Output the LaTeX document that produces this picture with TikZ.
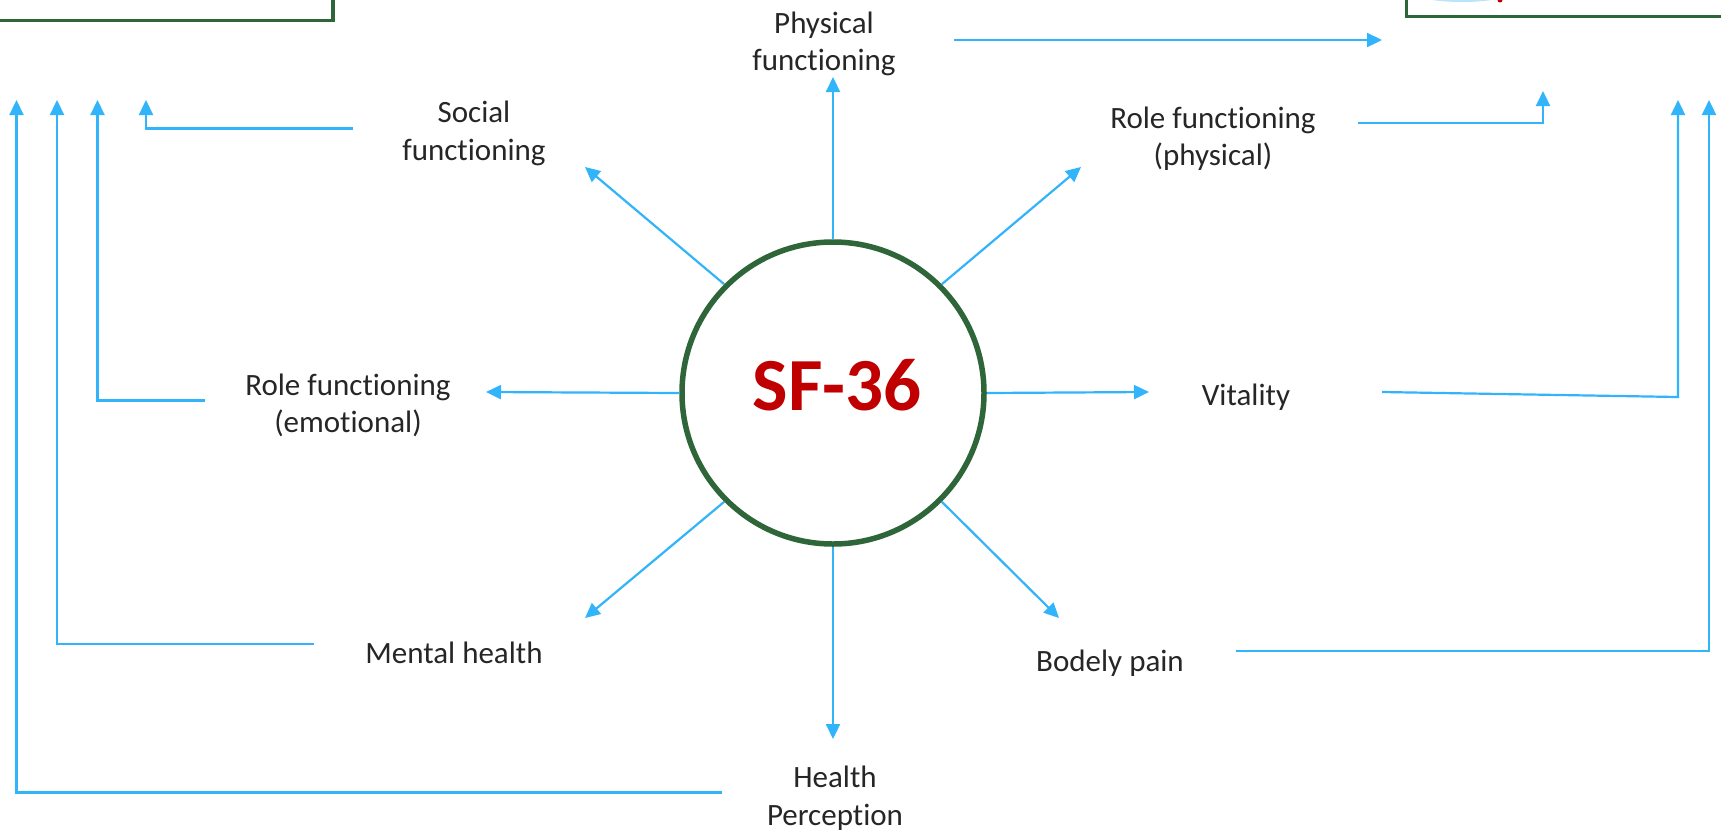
\documentclass[tikz,border=0pt]{standalone}
\usepackage{fontspec}
\setmainfont[Ligatures=NoCommon]{Carlito}
\usetikzlibrary{arrows.meta}
\definecolor{boxgreen}{RGB}{46,102,58}
\definecolor{linkblue}{RGB}{50,180,250}
\definecolor{hubred}{RGB}{192,0,0}
\definecolor{glowblue}{RGB}{185,228,250}
\tikzset{
  hub/.style={circle, draw=boxgreen, line width=5.5pt, minimum size=302pt, inner sep=0pt},
  hubtext/.style={text=hubred, font=\bfseries\fontsize{75}{80}\selectfont, inner sep=0pt},
  lbl/.style={align=center, inner sep=0pt, font=\fontsize{31}{37.5}\selectfont, text=black!85},
  arr/.style={draw=linkblue, line width=2.2pt, -{Triangle[length=15pt,width=14pt]}},
  frame/.style={draw=boxgreen, line width=3.5pt}
}
\begin{document}
\begin{tikzpicture}[x=1pt,y=-1pt]
\useasboundingbox (0,0) rectangle (1721,831);
\fill[white] (0,0) rectangle (1721,831);

% partial boxes at top corners
\draw[frame] (-20,-20) rectangle (333,20.5);
\fill[glowblue] (1462,-12) ellipse [x radius=58pt, y radius=14pt];
\fill[hubred] (1500,0) circle [radius=2.5pt];
\draw[frame] (1406.5,-20) rectangle (1760,16.5);

% hub
\node[hub] (c) at (833,393) {};
\node[hubtext] (t) at (837,385) {SF-36};

% labels
\node[lbl] (pf) at (824,44) {Physical\\functioning};
\node[lbl] (sf) at (474,133.5) {Social\\functioning};
\node[lbl] (rp) at (1213,138.5) {Role functioning\\(physical)};
\node[lbl] (re) at (348,405.5) {Role functioning\\(emotional)};
\node[lbl, anchor=base] (vt) at (1246,405) {Vitality};
\node[lbl, anchor=base] (mh) at (454,663) {Mental health};
\node[lbl, anchor=base] (bp) at (1110,671) {Bodely pain};
\node[lbl] (hp) at (835,798) {Health\\Perception};

% radial arrow tips
\coordinate (tN) at (833,77);
\coordinate (tNW) at (585,167);
\coordinate (tNE) at (1081,167);
\coordinate (tW) at (486,392);
\coordinate (tE) at (1149,392);
\coordinate (tSW) at (585,618);
\coordinate (tSE) at (1059,618);
\coordinate (tS) at (833,739);

\draw[arr] (c.north) -- (tN);
\draw[arr] (c.135) -- (tNW);
\draw[arr] (c.45) -- (tNE);
\draw[arr] (c.west) -- (tW);
\draw[arr] (c.east) -- (tE);
\draw[arr] (c.225) -- (tSW);
\draw[arr] (c.315) -- (tSE);
\draw[arr] (c.south) -- (tS);

% left side connectors
\coordinate (sfA) at (353,128.5);
\coordinate (sfB) at (146,100);
\draw[arr] (sfA) -| (sfB);
\coordinate (reA) at (205,400.5);
\coordinate (reB) at (97.5,100);
\draw[arr] (reA) -| (reB);
\coordinate (mhA) at (314,644);
\coordinate (mhB) at (57,100);
\draw[arr] (mhA) -| (mhB);
\coordinate (hpA) at (722,792.5);
\coordinate (hpB) at (16.5,100);
\draw[arr] (hpA) -| (hpB);

% right side connectors
\coordinate (pfA) at (954,40);
\coordinate (pfB) at (1382,40);
\draw[arr] (pfA) -- (pfB);
\coordinate (rpA) at (1358,123);
\coordinate (rpB) at (1543,91);
\draw[arr] (rpA) -| (rpB);
\coordinate (vtA) at (1382,392);
\coordinate (vtC) at (1678,397);
\coordinate (vtB) at (1678,100);
\draw[arr] (vtA) -- (vtC) -- (vtB);
\coordinate (bpA) at (1236,651);
\coordinate (bpB) at (1709,100);
\draw[arr] (bpA) -| (bpB);
\end{tikzpicture}
\end{document}
